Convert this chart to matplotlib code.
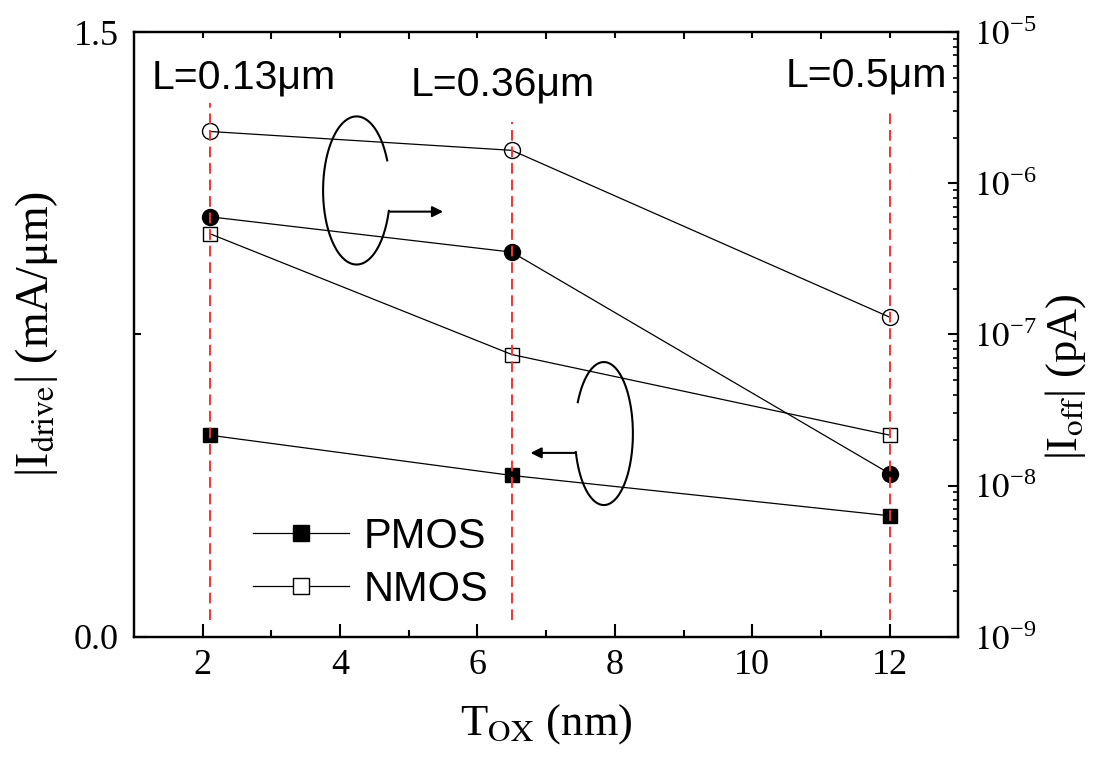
import numpy as np
import matplotlib
matplotlib.use('Agg')
import matplotlib.pyplot as plt
from matplotlib.lines import Line2D
from matplotlib.ticker import FuncFormatter

plt.rcParams['font.family'] = ['Liberation Serif', 'DejaVu Serif']
plt.rcParams['mathtext.fontset'] = 'stix'

# данные
tox = [2.1, 6.5, 12]
idrive_pmos = [0.50, 0.40, 0.30]
idrive_nmos = [1.00, 0.70, 0.50]
ioff_pmos = [6.0e-7, 3.5e-7, 1.2e-8]
ioff_nmos = [2.2e-6, 1.65e-6, 1.3e-7]
gate_labels = ['L=0.13μm', 'L=0.36μm', 'L=0.5μm']

fig = plt.figure(figsize=(10.94, 7.63), dpi=100)
ax = fig.add_axes([0.1225, 0.1655, 0.7535, 0.7925])
ax2 = ax.twinx()

line_kw = dict(color='black', lw=0.9, mew=1.0)
ax.plot(tox, idrive_pmos, marker='s', ms=9.5, mfc='black', mec='black', **line_kw)
ax.plot(tox, idrive_nmos, marker='s', ms=9.5, mfc='none', mec='black', **line_kw)
ax2.plot(tox, ioff_pmos, marker='o', ms=11.5, mfc='black', mec='black', **line_kw)
ax2.plot(tox, ioff_nmos, marker='o', ms=11.5, mfc='none', mec='black', **line_kw)

# красные пунктирные линии
for x, top in zip(tox, [0.883, 0.851, 0.866]):
    ax2.axvline(x, ymin=0.028, ymax=top, color='#f03535', lw=1.4, ls=(0, (5.5, 3)), zorder=5)

# подписи длины канала
for x, y, s in zip([1.26, 5.02, 10.48], [1.361, 1.342, 1.366], gate_labels):
    ax.text(x, y, s, family='Liberation Sans', fontsize=29.5, ha='left', va='baseline')

# петли со стрелками
def loop(cx, cy, w, h, t1, t2):
    t = np.radians(np.linspace(t1, t2, 200))
    ax.plot(cx + w / 2 * np.cos(t), cy + h / 2 * np.sin(t), color='black', lw=1.5,
            transform=ax.transAxes, clip_on=False)

loop(0.270, 0.738, 0.0813, 0.245, 24, 344)
ax.annotate('', xy=(0.375, 0.703), xytext=(0.3106, 0.703), xycoords='axes fraction',
            arrowprops=dict(arrowstyle='-|>', lw=1.5, color='black', mutation_scale=16,
                            shrinkA=0, shrinkB=0))
loop(0.570, 0.336, 0.0704, 0.2365, -165, 154)
ax.annotate('', xy=(0.481, 0.304), xytext=(0.535, 0.304), xycoords='axes fraction',
            arrowprops=dict(arrowstyle='-|>', lw=1.5, color='black', mutation_scale=16,
                            shrinkA=0, shrinkB=0))

# легенда
handles = [Line2D([], [], color='black', lw=0.9, marker='s', ms=12, mfc='black', mec='black'),
           Line2D([], [], color='black', lw=0.9, marker='s', ms=12, mfc='white', mec='black')]
ax.legend(handles, ['PMOS', 'NMOS'], loc='lower left', bbox_to_anchor=(0.144, 0.045),
          frameon=False, prop={'family': 'Liberation Sans', 'size': 30},
          handlelength=2.3, handletextpad=0.35, labelspacing=0.3,
          borderpad=0, borderaxespad=0)

# оси
ax.set_xlim(1, 13)
ax.set_ylim(0, 1.5)
ax.set_xticks([2, 4, 6, 8, 10, 12])
ax.set_xticks([3, 5, 7, 9, 11], minor=True)
ax.set_yticks([0, 1.5])
ax.set_yticklabels(['0.0', '1.5'])
ax.set_yticks([0.75], minor=True)
ax.tick_params(which='both', direction='in', width=1.5, labelsize=26, right=False, top=True)
ax.tick_params(which='major', length=9.5)
ax.tick_params(which='minor', length=5)
ax.tick_params(axis='y', pad=11)
ax.tick_params(axis='x', pad=9)

ax2.set_yscale('log')
ax2.set_ylim(1e-9, 1e-5)
ax2.yaxis.set_major_formatter(FuncFormatter(lambda v, p: r'$10^{\mathregular{-%d}}$' % round(-np.log10(v))))
ax2.tick_params(which='both', direction='in', width=1.5, labelsize=25, pad=11)
ax2.tick_params(which='major', length=7)
ax2.tick_params(which='minor', length=3.6, width=1.2)

for a in (ax, ax2):
    for sp in a.spines.values():
        sp.set_linewidth(1.6)
    a.xaxis.get_offset_text().set_visible(False)
    a.yaxis.get_offset_text().set_visible(False)

ax.set_xlabel(r'T$_{\rm OX}$ (nm)', fontsize=32, labelpad=14)
ax.set_ylabel(r'|I$_{\rm drive}$| (mA/μm)', fontsize=33, labelpad=10)
ax2.set_ylabel(r'|I$_{\rm off}$| (pA)', fontsize=32)
ax2.yaxis.set_label_coords(1.103, 0.43)

# короткие засечки сверху
fig.canvas.draw()
for t in ax.xaxis.get_major_ticks():
    t.tick2line.set_markersize(4.5)

fig.savefig('out.png', dpi=100)
